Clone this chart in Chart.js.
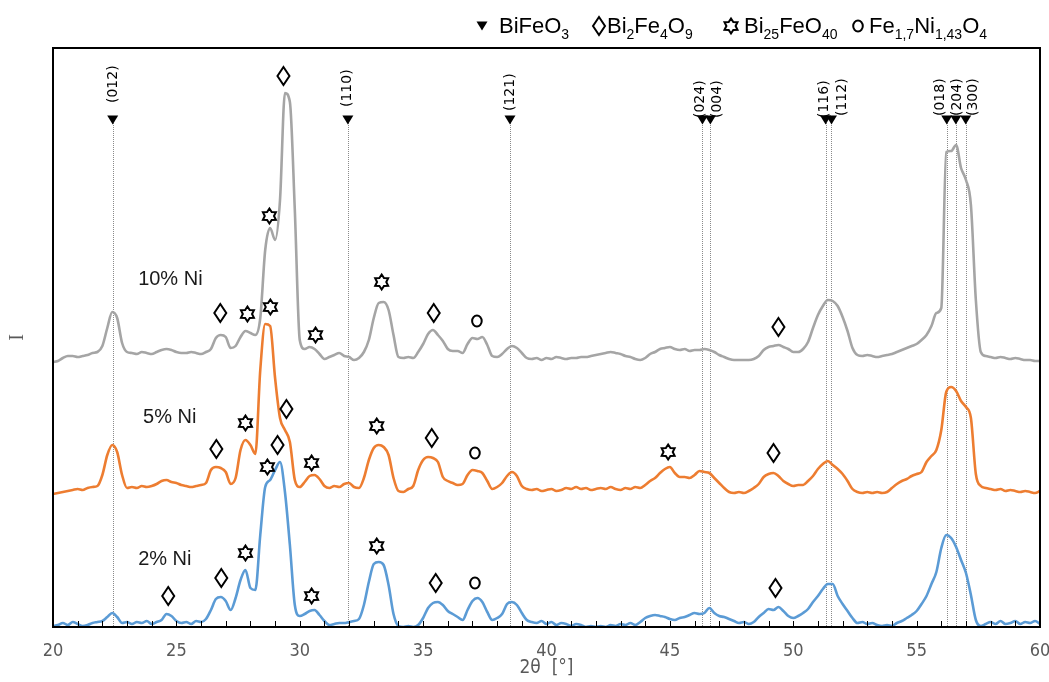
<!DOCTYPE html>
<html>
<head>
<meta charset="utf-8">
<title>XRD patterns of Ni-doped BiFeO3</title>
<script src="https://cdn.jsdelivr.net/npm/chart.js@4.4.1/dist/chart.umd.min.js"></script>
<style>
  html, body { margin: 0; padding: 0; background: #ffffff; }
  #wrap { width: 1049px; height: 682px; position: relative; }
</style>
</head>
<body>
<div id="wrap"><canvas id="xrd" width="1049" height="682"></canvas></div>
<script>
// Diffraction angle grid: 2θ from 20° to 60° in 0.2° steps
const ANGLE_START = 20;
const ANGLE_STEP = 0.2;

// Intensities (arbitrary units, patterns stacked one above another)
const ni10 = [
  265, 266, 269, 271, 271, 270, 271, 272, 274, 275,
  281, 299, 315, 309, 284, 275, 274, 273, 275, 274,
  273, 275, 277, 278, 277, 275, 274, 274, 275, 274,
  273, 275, 278, 289, 292, 290, 279, 281, 290, 296,
  294, 292, 309, 377, 399, 387, 427, 534, 525, 417,
  287, 278, 280, 278, 273, 268, 270, 272, 274, 271,
  270, 267, 269, 275, 287, 309, 324, 325, 317, 292,
  270, 269, 270, 269, 275, 283, 293, 297, 292, 286,
  278, 276, 276, 274, 283, 289, 288, 290, 282, 271,
  270, 273, 278, 281, 279, 274, 269, 268, 269, 267,
  269, 268, 270, 269, 268, 269, 269, 270, 270, 271,
  272, 273, 274, 275, 274, 273, 271, 270, 268, 267,
  269, 273, 275, 278, 279, 280, 278, 277, 278, 276,
  277, 277, 278, 277, 275, 272, 270, 268, 267, 267,
  267, 267, 268, 271, 277, 280, 281, 282, 280, 278,
  275, 275, 278, 285, 299, 312, 321, 327, 326, 321,
  310, 296, 279, 272, 271, 272, 271, 270, 271, 272,
  273, 275, 277, 279, 281, 283, 287, 292, 301, 314,
  319, 475, 476, 482, 459, 447, 422, 327, 275, 271,
  270, 269, 270, 269, 268, 269, 268, 267, 267, 266,
  266
];

const ni5 = [
  133, 134, 135, 136, 137, 138, 137, 139, 140, 141,
  152, 172, 182, 175, 152, 139, 140, 139, 141, 140,
  141, 143, 146, 147, 145, 144, 142, 141, 140, 141,
  142, 144, 157, 160, 159, 155, 143, 149, 177, 187,
  182, 173, 257, 303, 301, 249, 209, 197, 185, 147,
  140, 145, 151, 152, 148, 141, 139, 141, 140, 143,
  144, 140, 139, 149, 167, 179, 182, 180, 172, 149,
  136, 135, 138, 141, 157, 167, 170, 169, 165, 150,
  146, 144, 142, 143, 152, 157, 156, 154, 146, 138,
  140, 144, 151, 155, 151, 141, 138, 137, 138, 136,
  137, 138, 136, 137, 139, 138, 140, 138, 139, 137,
  138, 139, 138, 140, 138, 137, 139, 138, 140, 139,
  142, 146, 149, 154, 158, 160, 154, 150, 150, 149,
  152, 156, 155, 154, 149, 144, 139, 135, 134, 135,
  134, 136, 139, 143, 150, 153, 154, 151, 146, 143,
  141, 142, 142, 146, 151, 158, 163, 166, 162, 158,
  153, 146, 138, 135, 134, 135, 134, 135, 134, 135,
  139, 143, 146, 148, 151, 153, 155, 165, 171, 177,
  197, 235, 240, 236, 226, 220, 209, 153, 141, 139,
  138, 137, 138, 136, 137, 136, 135, 136, 135, 134,
  136
];

const ni2 = [
  1, 2, 4, 2, 5, 3, 1, 2, 4, 5,
  6, 10, 14, 10, 4, 5, 3, 5, 4, 6,
  3, 5, 7, 13, 11, 6, 4, 5, 3, 6,
  5, 8, 17, 28, 30, 26, 17, 29, 47, 57,
  39, 37, 92, 140, 147, 157, 165, 135, 82, 22,
  11, 13, 16, 17, 12, 6, 2, 3, 4, 4,
  5, 6, 8, 22, 45, 63, 65, 62, 42, 13,
  1, 0, 1, 0, 2, 9, 19, 24, 25, 22,
  16, 13, 10, 7, 17, 26, 29, 25, 15, 7,
  9, 13, 23, 25, 22, 14, 7, 5, 4, 6,
  3, 5, 2, 4, 3, 1, 3, 2, 0, 1,
  0, 1, 0, 2, 1, 3, 2, 4, 2, 5,
  9, 11, 12, 11, 10, 8, 7, 9, 10, 12,
  14, 13, 14, 19, 14, 11, 10, 8, 6, 4,
  5, 3, 5, 10, 14, 18, 17, 20, 16, 11,
  9, 11, 14, 18, 25, 31, 38, 43, 43, 31,
  23, 16, 9, 4, 5, 3, 4, 2, 1, 2,
  1, 4, 6, 9, 12, 16, 23, 31, 43, 55,
  79, 92, 89, 80, 67, 54, 32, 7, 1, 3,
  5, 3, 6, 3, 4, 6, 3, 5, 4, 6,
  3
];

const seriesNames = ['2% Ni', '5% Ni', '10% Ni'];
const seriesLabelAngle = [23.45, 23.65, 23.45];
const seriesLabelLevel = [62, 204, 342];

// BiFeO3 reference reflections
const bfoHkl = ['(012)', '(110)', '(121)', '(024)', '(004)', '(116)', '(112)', '(018)', '(204)', '(300)'];
const bfoAngle = [22.42, 31.95, 38.52, 46.32, 46.64, 51.31, 51.55, 56.22, 56.59, 56.99];
const bfoMarkLevel = 507;

// Secondary-phase markers: d = Bi2Fe4O9, s = Bi25FeO40, c = Fe1,7Ni1,43O4
const markPhase = [
  'd', 's', 'd', 's', 's', 's', 'd', 'c', 'd',
  'd', 's', 's', 'd', 's', 's', 'd', 'c', 's', 'd',
  'd', 'd', 's', 's', 'd', 's', 's', 'd', 'c', 'd'
];
const markAngle = [
  29.34, 28.77, 26.78, 27.88, 30.64, 33.32, 35.43, 37.18, 49.40,
  26.62, 27.80, 28.81, 29.46, 30.48, 33.12, 35.35, 37.10, 44.93, 49.20,
  24.67, 26.82, 27.80, 28.69, 29.10, 30.48, 33.12, 35.51, 37.10, 49.28
];
const markLevel = [
  551, 411, 314, 313, 292, 345, 314, 306, 300,
  178, 204, 320, 218, 164, 201, 189, 174, 175, 174,
  31, 49, 74, 160, 182, 31, 81, 44, 44, 39
];

const xTickValues = [20, 25, 30, 35, 40, 45, 50, 55, 60];

// ---- drawing helpers -------------------------------------------------
const twoTheta = ni2.map((_, i) => +(ANGLE_START + i * ANGLE_STEP).toFixed(1));
const toPoints = arr => arr.map((v, i) => ({ x: twoTheta[i], y: v }));

// hkl label offsets (px) relative to the reflection line and its triangle
const hklLabelDx = [1, -1, 0, -2, 7, -1, 11, -6, 2, 8];
const hklLabelLift = [17, 13, 9, 2, 2, 2, 4, 4, 4, 4];

function downTriangle(ctx, cx, cy, hw, h) {
  ctx.beginPath();
  ctx.moveTo(cx - hw, cy - h / 2);
  ctx.lineTo(cx + hw, cy - h / 2);
  ctx.lineTo(cx, cy + h / 2);
  ctx.closePath();
  ctx.fill();
}
function diamond(ctx, cx, cy, hw, hh) {
  ctx.beginPath();
  ctx.moveTo(cx, cy - hh);
  ctx.lineTo(cx + hw, cy);
  ctx.lineTo(cx, cy + hh);
  ctx.lineTo(cx - hw, cy);
  ctx.closePath();
  ctx.stroke();
}
function hexagram(ctx, cx, cy, R, r) {
  ctx.beginPath();
  for (let k = 0; k < 12; k++) {
    const ang = -Math.PI / 2 + k * Math.PI / 6;
    const rad = k % 2 === 0 ? R : r;
    const px = cx + rad * Math.cos(ang), py = cy + rad * Math.sin(ang);
    if (k === 0) ctx.moveTo(px, py); else ctx.lineTo(px, py);
  }
  ctx.closePath();
  ctx.stroke();
}
function ring(ctx, cx, cy, rx, ry) {
  ctx.beginPath();
  ctx.ellipse(cx, cy, rx, ry, 0, 0, Math.PI * 2);
  ctx.stroke();
}
function drawSymbol(ctx, kind, cx, cy) {
  ctx.strokeStyle = '#000'; ctx.fillStyle = '#000'; ctx.lineWidth = 2;
  if (kind === 'd') diamond(ctx, cx, cy, 6, 9);
  else if (kind === 's') hexagram(ctx, cx, cy, 7.5, 4.6);
  else if (kind === 'c') ring(ctx, cx, cy, 4.8, 5.6);
  else if (kind === 't') downTriangle(ctx, cx, cy, 5.5, 9);
}
// text with subscripts: parts = [[text, isSub], ...]
function richText(ctx, parts, x, y, size, subSize) {
  let cx = x;
  parts.forEach(([t, sub]) => {
    ctx.font = (sub ? subSize : size) + 'px "Liberation Sans", Arial, sans-serif';
    ctx.fillText(t, cx, sub ? y + size * 0.28 : y);
    cx += ctx.measureText(t).width;
  });
}

const legendItems = [
  { sym: 't', sx: 482, tx: 499, parts: [['BiFeO', 0], ['3', 1]] },
  { sym: 'd', sx: 599, tx: 607, parts: [['Bi', 0], ['2', 1], ['Fe', 0], ['4', 1], ['O', 0], ['9', 1]] },
  { sym: 's', sx: 731, tx: 744, parts: [['Bi', 0], ['25', 1], ['FeO', 0], ['40', 1]] },
  { sym: 'c', sx: 858, tx: 869, parts: [['Fe', 0], ['1,7', 1], ['Ni', 0], ['1,43', 1], ['O', 0], ['4', 1]] }
];

const xrdDecor = {
  id: 'xrdDecor',
  beforeDatasetsDraw(chart) {
    const { ctx, chartArea: a, scales: { x, y } } = chart;
    ctx.save();
    const triY = y.getPixelForValue(bfoMarkLevel);
    bfoAngle.forEach((ang) => {
      const px = Math.round(x.getPixelForValue(ang)) + 0.5;
      ctx.strokeStyle = '#8a8a8a';
      ctx.lineWidth = 1;
      ctx.setLineDash([1, 1]);
      ctx.beginPath();
      ctx.moveTo(px, triY + 3);
      ctx.lineTo(px, a.bottom);
      ctx.stroke();
    });
    ctx.setLineDash([]);
    bfoAngle.forEach((ang, i) => {
      const px = x.getPixelForValue(ang);
      drawSymbol(ctx, 't', px, triY);
      ctx.save();
      ctx.translate(px + hklLabelDx[i], triY - hklLabelLift[i]);
      ctx.rotate(-Math.PI / 2);
      ctx.fillStyle = '#000';
      ctx.font = '14px "DejaVu Sans", sans-serif';
      ctx.textAlign = 'left';
      ctx.textBaseline = 'middle';
      ctx.fillText(bfoHkl[i], 0, 0);
      ctx.restore();
    });
    ctx.restore();
  },
  afterDatasetsDraw(chart) {
    const { ctx, chartArea: a, scales: { x, y } } = chart;
    ctx.save();
    // phase markers
    markPhase.forEach((k, i) => {
      drawSymbol(ctx, k, x.getPixelForValue(markAngle[i]), y.getPixelForValue(markLevel[i]));
    });
    // pattern names
    ctx.fillStyle = '#1a1a1a';
    ctx.font = '20px "Liberation Sans", Arial, sans-serif';
    ctx.textAlign = 'left';
    ctx.textBaseline = 'alphabetic';
    seriesNames.forEach((n, i) => {
      ctx.fillText(n, x.getPixelForValue(seriesLabelAngle[i]), y.getPixelForValue(seriesLabelLevel[i]));
    });
    // frame
    ctx.strokeStyle = '#000';
    ctx.lineWidth = 2;
    ctx.strokeRect(a.left, a.top, a.right - a.left, a.bottom - a.top);
    // inward ticks every degree
    ctx.lineWidth = 1;
    for (let d = 20; d <= 60; d++) {
      const px = Math.round(x.getPixelForValue(d)) + 0.5;
      ctx.beginPath();
      ctx.moveTo(px, a.bottom);
      ctx.lineTo(px, a.bottom - 6);
      ctx.stroke();
    }
    ctx.restore();
  },
  afterDraw(chart) {
    const { ctx } = chart;
    ctx.save();
    ctx.fillStyle = '#000';
    ctx.textAlign = 'left';
    ctx.textBaseline = 'alphabetic';
    legendItems.forEach(it => {
      drawSymbol(ctx, it.sym, it.sx, 26);
      ctx.fillStyle = '#000';
      richText(ctx, it.parts, it.tx, 33, 22, 14);
    });
    ctx.restore();
  }
};

const axisFont = '"Liberation Sans Narrow", "DejaVu Sans Condensed", "Liberation Sans", sans-serif';

new Chart(document.getElementById('xrd'), {
  type: 'line',
  data: {
    datasets: [
      { label: seriesNames[0], data: toPoints(ni2), borderColor: '#5b9bd5' },
      { label: seriesNames[1], data: toPoints(ni5), borderColor: '#ed7d31' },
      { label: seriesNames[2], data: toPoints(ni10), borderColor: '#a5a5a5' }
    ]
  },
  options: {
    responsive: false,
    animation: false,
    layout: { padding: { top: 48, right: 9, left: 0, bottom: 0 } },
    elements: {
      line: { borderWidth: 2.6, cubicInterpolationMode: 'monotone', fill: false },
      point: { radius: 0, hoverRadius: 0 }
    },
    plugins: { legend: { display: false }, tooltip: { enabled: false } },
    scales: {
      x: {
        type: 'linear',
        min: 20, max: 60,
        afterBuildTicks: s => { s.ticks = xTickValues.map(v => ({ value: v })); },
        afterFit: s => { s.height = 55; s.paddingLeft = 0; s.paddingRight = 0; },
        grid: { display: false },
        border: { display: true, color: '#000', width: 2 },
        ticks: {
          color: '#595959',
          padding: 6,
          font: { family: axisFont, size: 18 }
        },
        title: {
          display: true,
          text: '2θ  [°]',
          color: '#595959',
          padding: { top: 0, bottom: 3 },
          font: { family: axisFont, size: 19 }
        }
      },
      y: {
        min: 0, max: 579,
        afterFit: s => { s.width = 53; s.paddingTop = 0; s.paddingBottom = 0; },
        grid: { display: false },
        border: { display: true, color: '#000', width: 2 },
        ticks: { display: false },
        title: {
          display: true,
          text: 'I',
          color: '#595959',
          padding: { top: 6, bottom: 0 },
          font: { family: '"Liberation Serif", "DejaVu Serif", serif', size: 20 }
        }
      }
    }
  },
  plugins: [xrdDecor]
});
</script>
</body>
</html>
